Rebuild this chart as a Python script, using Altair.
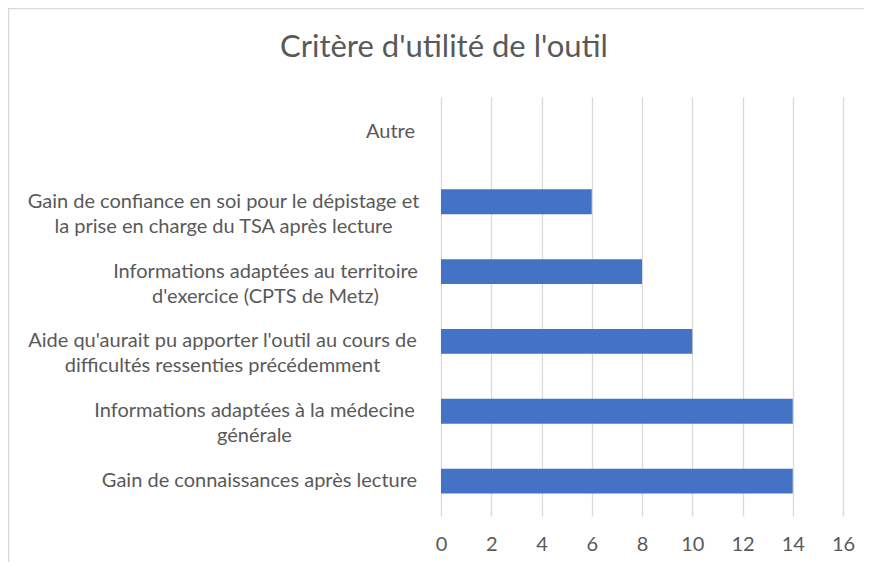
import altair as alt
import pandas as pd

categories = [
    "Autre",
    "Gain de confiance en soi pour le dépistage et|la prise en charge du TSA après lecture",
    "Informations adaptées au territoire|d'exercice (CPTS de Metz)",
    "Aide qu'aurait pu apporter l'outil au cours de|difficultés ressenties précédemment",
    "Informations adaptées à la médecine|générale",
    "Gain de connaissances après lecture",
]
values = [0, 6, 8, 10, 14, 14]
x_ticks = [0, 2, 4, 6, 8, 10, 12, 14, 16]

df = pd.DataFrame({"critere": categories, "n": values})

FONT = "Lato"
GREY = "#595959"

# per-label padding so that each multi-line label block is centred like the reference
pads = [51, 218, 176, 219, 187, 182]
pad_expr = "[" + ",".join(str(p) for p in pads) + "][indexof([" + ",".join(
    "'" + c.replace("'", "\\'") + "'" for c in categories) + "], datum.value)]"

bars = alt.Chart(df).mark_bar(color="#4472C4").encode(
    x=alt.X("n:Q",
            scale=alt.Scale(domain=[0, 16], nice=False),
            axis=alt.Axis(values=x_ticks, title=None, domain=False, ticks=False,
                          grid=True, gridColor="#d9d9d9", gridWidth=1.3,
                          labelFont=FONT, labelFontSize=20, labelColor=GREY,
                          labelFlush=False, labelPadding=18)),
    y=alt.Y("critere:N", sort=categories,
            scale=alt.Scale(paddingInner=0.645, paddingOuter=0.3225),
            axis=alt.Axis(title=None, domain=False, ticks=False, grid=False,
                          labelFont=FONT, labelFontSize=20, labelColor=GREY,
                          labelAlign="center", labelBaseline="middle",
                          labelLineHeight=25, labelLimit=0,
                          labelExpr="split(datum.label, '|')",
                          labelPadding=alt.ExprRef(expr=pad_expr))),
)

frame = alt.Chart(alt.Data(values=[{}])).mark_rect(
    fill=None, stroke="#d9d9d9", strokeWidth=1.5
).encode(
    x=alt.value(-432.5), x2=alt.value(600),
    y=alt.value(-88.5), y2=alt.value(600),
)

chart = alt.layer(frame, bars).properties(
    width=402, height=419,
    padding={"left": 433, "top": 89, "right": 21, "bottom": 46},
    autosize=alt.AutoSizeParams(type="none"),
    title=alt.TitleParams("Critère d'utilité de l'outil", font=FONT, fontSize=31,
                          fontWeight="normal", color=GREY, anchor="middle",
                          frame="group", dx=-198, offset=0, dy=56),
).configure_view(stroke=None)

chart.save("out.html", embed_options={"renderer": "svg", "actions": False})
